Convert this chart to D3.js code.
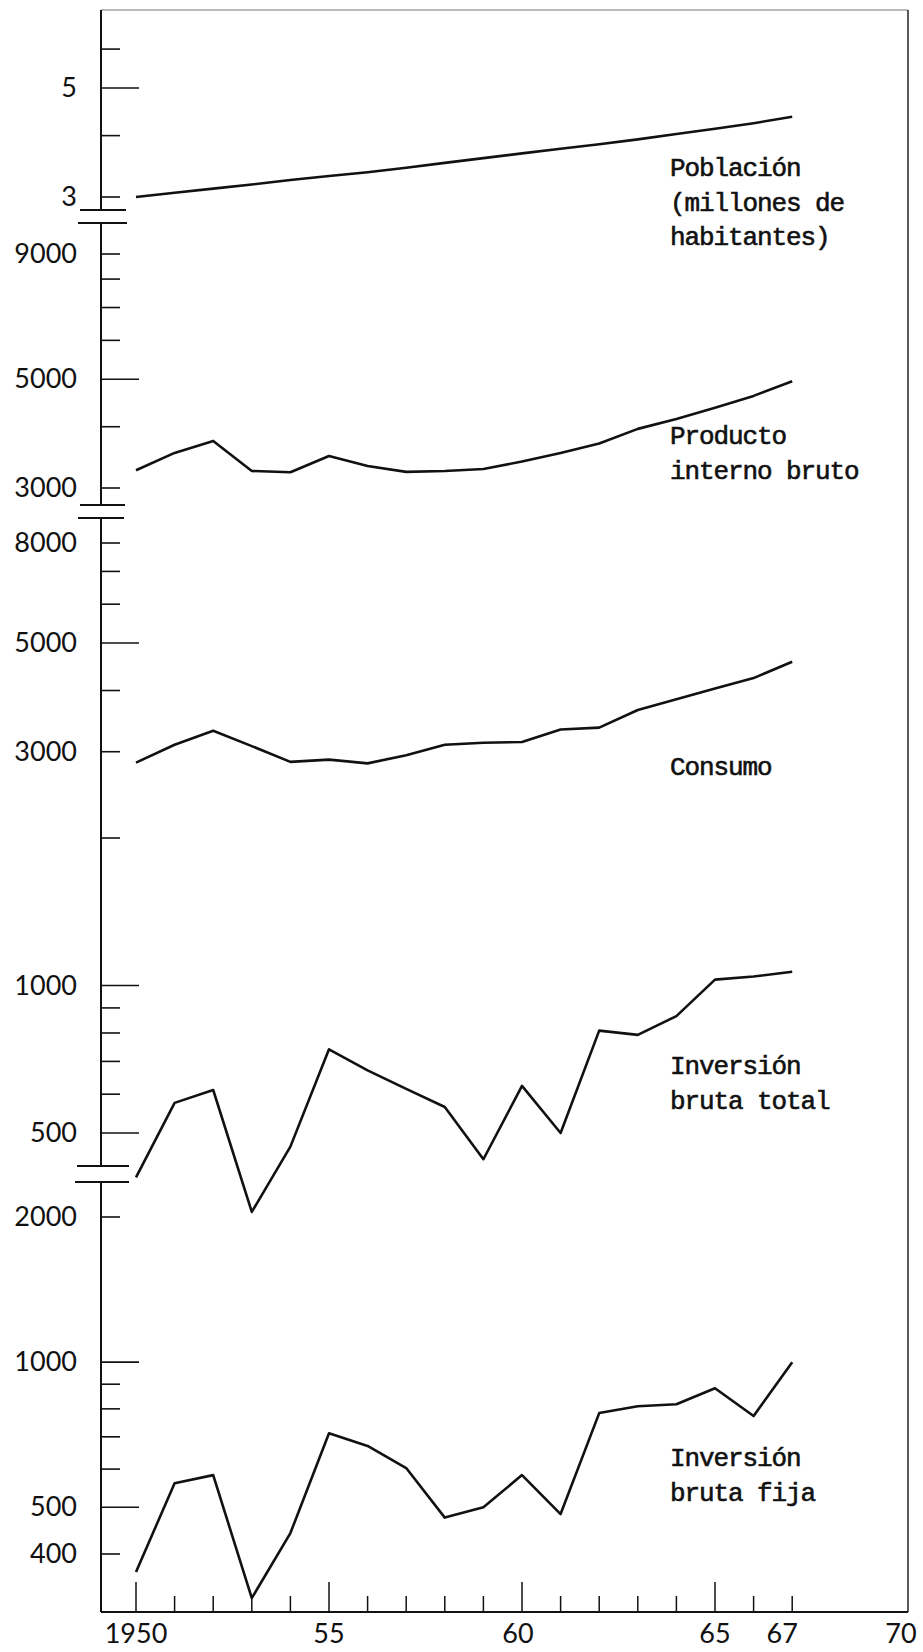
<!DOCTYPE html>
<html>
<head>
<meta charset="utf-8">
<script src="https://cdn.jsdelivr.net/npm/d3@7"></script>
<style>
  body { margin: 0; background: #fff; }
  .num { font-family: Lato, "Open Sans", sans-serif; font-size: 27px; fill: #111; }
  .lbl { font-family: "Liberation Mono", "Courier New", monospace; font-size: 26px; letter-spacing: -1.1px; fill: #111; stroke: #111; stroke-width: 0.6; }
</style>
</head>
<body>
<div id="chart"></div>
<script>
// Years on the x axis
const years = [1950, 1951, 1952, 1953, 1954, 1955, 1956, 1957, 1958, 1959,
  1960, 1961, 1962, 1963, 1964, 1965, 1966, 1967];

// Series values
const poblacion = [3.00, 3.06, 3.12, 3.18, 3.25, 3.31, 3.37, 3.44, 3.52, 3.60,
  3.68, 3.76, 3.84, 3.93, 4.03, 4.13, 4.24, 4.37];
const pib = [3260, 3537, 3742, 3250, 3230, 3487, 3327, 3236, 3249, 3279,
  3398, 3537, 3697, 3960, 4148, 4371, 4623, 4951];
const consumo = [2850, 3100, 3310, 3080, 2860, 2890, 2840, 2950, 3100, 3130,
  3140, 3330, 3360, 3650, 3840, 4040, 4240, 4580];
const invTotal = [406, 576, 612, 345, 469, 741, 671, 615, 565, 442,
  624, 500, 809, 793, 866, 1028, 1043, 1067];
const invFija = [367, 561, 583, 324, 442, 712, 670, 603, 476, 500,
  583, 484, 784, 810, 818, 883, 773, 1000];

// Tick values per panel, and which ones carry a label / long tick
const popTicks = [6, 5, 4, 3];
const popLabels = [5, 3];
const pibTicks = [9000, 8000, 7000, 6000, 5000, 4000, 3000];
const pibLabels = [9000, 5000, 3000];
const consTicks = [8000, 7000, 6000, 5000, 4000, 3000, 2000, 1000, 900, 800, 700, 600, 500];
const consLabels = [8000, 5000, 3000, 1000, 500];
const fijaTicks = [2000, 1000, 900, 800, 700, 600, 500, 400];
const fijaLabels = [2000, 1000, 500, 400];
const longTicks = [5, 5000, 1000, 500];

const xTicks = years;
const xMajor = [1950, 1955, 1960, 1965];
const xLabels = [1950, 1955, 1960, 1965, 1967, 1970];

const width = 923;
const height = 1652;

const svg = d3
  .select("#chart")
  .append("svg")
  .attr("width", width)
  .attr("height", height);

const axLeft = 101,
  axRight = 908,
  axTop = 10,
  axBottom = 1612;

const x = d3.scaleLinear().domain([1950, 1970]).range([136, 908]);

// one log scale per panel; consumo and inversión total share one
const yPop = d3.scaleLog().domain([5, 3]).range([88, 197]);
const yPib = d3.scaleLog().domain([9000, 3000]).range([254, 488]);
const yCons = d3.scaleLog().domain([8000, 500]).range([543, 1133]);
const yFija = d3.scaleLog().domain([2000, 400]).range([1217, 1554]);

// frame
svg.append("line")
  .attr("x1", axLeft).attr("x2", axRight).attr("y1", axTop).attr("y2", axTop)
  .attr("stroke", "#777").attr("stroke-width", 1.2);
svg.append("line")
  .attr("x1", axRight).attr("x2", axRight).attr("y1", axTop).attr("y2", axBottom)
  .attr("stroke", "#222").attr("stroke-width", 1.5);

// left axis, broken in pieces
const segments = [[axTop, 210], [223, 505], [518, 1166], [1182, axBottom]];
svg.selectAll(".seg")
  .data(segments)
  .enter()
  .append("line")
  .attr("x1", axLeft).attr("x2", axLeft)
  .attr("y1", (d) => d[0]).attr("y2", (d) => d[1])
  .attr("stroke", "#111").attr("stroke-width", 2);

// break marks
const breaks = [[210, 80, 126], [223, 78, 127], [505, 80, 125], [518, 78, 124], [1166, 77, 129], [1182, 75, 129]];
svg.selectAll(".brk")
  .data(breaks)
  .enter()
  .append("line")
  .attr("x1", (d) => d[1]).attr("x2", (d) => d[2])
  .attr("y1", (d) => d[0]).attr("y2", (d) => d[0])
  .attr("stroke", "#111").attr("stroke-width", 1.8);

function drawTicks(scale, ticks, labels) {
  const g = svg.append("g");
  g.selectAll("line")
    .data(ticks)
    .enter()
    .append("line")
    .attr("x1", axLeft)
    .attr("x2", (d) => axLeft + (longTicks.includes(d) ? 38 : 19))
    .attr("y1", (d) => scale(d))
    .attr("y2", (d) => scale(d))
    .attr("stroke", "#111")
    .attr("stroke-width", 1.6);
  g.selectAll("text")
    .data(labels)
    .enter()
    .append("text")
    .attr("class", "num")
    .attr("x", 77)
    .attr("y", (d) => scale(d))
    .attr("dy", "0.34em")
    .attr("text-anchor", "end")
    .text((d) => d);
}

drawTicks(yPop, popTicks, popLabels);
drawTicks(yPib, pibTicks, pibLabels);
drawTicks(yCons, consTicks, consLabels);
drawTicks(yFija, fijaTicks, fijaLabels);

// bottom axis
svg.append("line")
  .attr("x1", axLeft).attr("x2", axRight).attr("y1", axBottom).attr("y2", axBottom)
  .attr("stroke", "#111").attr("stroke-width", 1.8);

svg.selectAll(".xt")
  .data(xTicks)
  .enter()
  .append("line")
  .attr("x1", (d) => x(d)).attr("x2", (d) => x(d))
  .attr("y1", axBottom)
  .attr("y2", (d) => axBottom - (xMajor.includes(d) ? 30 : 16))
  .attr("stroke", "#111").attr("stroke-width", 1.5);

// hand-lettered years sit a little off their ticks
const xNudge = { 1960: -4, 1967: -10, 1970: -7 };
svg.selectAll(".xl")
  .data(xLabels)
  .enter()
  .append("text")
  .attr("class", "num")
  .attr("x", (d) => x(d) + (xNudge[d] || 0))
  .attr("y", 1643)
  .attr("text-anchor", "middle")
  .text((d) => (d === 1950 ? d : String(d).slice(2)));

// series lines
const series = [
  { values: poblacion, y: yPop },
  { values: pib, y: yPib },
  { values: consumo, y: yCons },
  { values: invTotal, y: yCons },
  { values: invFija, y: yFija },
];

series.forEach(function (s) {
  const line = d3
    .line()
    .x((d, i) => x(years[i]))
    .y((d) => s.y(d));
  svg.append("path")
    .attr("d", line(s.values))
    .attr("fill", "none")
    .attr("stroke", "#111")
    .attr("stroke-width", 2.6)
    .attr("stroke-linejoin", "round");
});

// series labels (typewritten)
const labels = [
  { lines: ["Población", "(millones de", "habitantes)"], y: 176 },
  { lines: ["Producto", "interno bruto"], y: 444 },
  { lines: ["Consumo"], y: 775 },
  { lines: ["Inversión", "bruta total"], y: 1074 },
  { lines: ["Inversión", "bruta fija"], y: 1466 },
];

labels.forEach(function (l) {
  const t = svg.append("text").attr("class", "lbl").attr("x", 670).attr("y", l.y);
  l.lines.forEach(function (s, i) {
    t.append("tspan").attr("x", 670).attr("dy", i === 0 ? 0 : 34.5).text(s);
  });
});
</script>
</body>
</html>
